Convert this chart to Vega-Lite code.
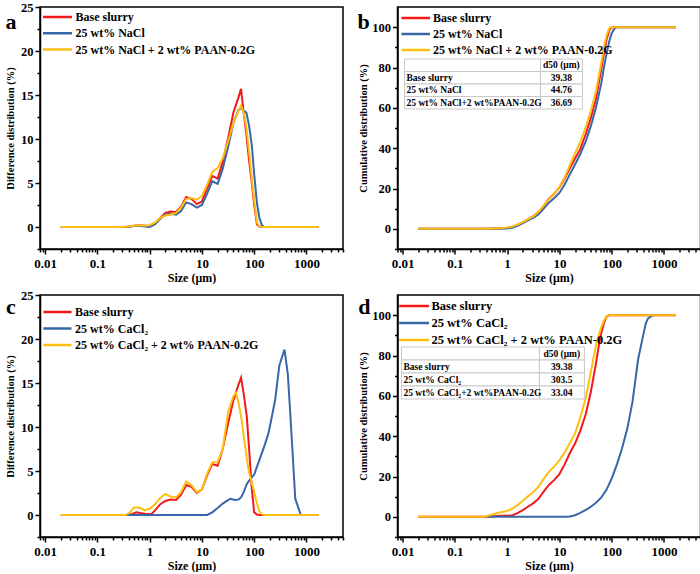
{
"$schema": "https://vega.github.io/schema/vega-lite/v6.json",
"background": "white",
"padding": {"left": 4, "top": 0, "right": 0, "bottom": 0},
"spacing": 4,
"config": {
  "font": "Liberation Serif",
  "view": {"stroke": "black", "strokeWidth": 1.5},
  "axis": {"grid": false, "domainColor": "black", "domainWidth": 1.5, "tickColor": "black", "tickWidth": 1.5,
           "labelFont": "Liberation Serif", "labelFontWeight": "bold", "labelFontSize": 13, "labelColor": "black",
           "titleFont": "Liberation Serif", "titleFontWeight": "bold", "titleColor": "black", "labelFlush": false, "labelOverlap": false},
  "axisX": {"labelPadding": 3, "titlePadding": 2, "titleFontSize": 12, "labelFontSize": 13},
  "axisY": {"labelPadding": 2, "titlePadding": 2.5, "titleFontSize": 10.5, "labelFontSize": 12.5}
},
"datasets": {
  "a": [
    {"series":"Base slurry","size":0.02,"value":0},{"series":"Base slurry","size":0.32,"value":0},{"series":"Base slurry","size":0.4,"value":0.05},{"series":"Base slurry","size":0.5,"value":0.15},{"series":"Base slurry","size":0.63,"value":0.2},{"series":"Base slurry","size":0.8,"value":0.15},{"series":"Base slurry","size":1,"value":0.1},{"series":"Base slurry","size":1.26,"value":0.4},{"series":"Base slurry","size":1.58,"value":1.0},{"series":"Base slurry","size":2,"value":1.6},{"series":"Base slurry","size":2.5,"value":1.75},{"series":"Base slurry","size":3.2,"value":1.7},{"series":"Base slurry","size":4,"value":2.3},{"series":"Base slurry","size":5,"value":3.4},{"series":"Base slurry","size":6.3,"value":3.2},{"series":"Base slurry","size":8,"value":2.6},{"series":"Base slurry","size":10,"value":2.9},{"series":"Base slurry","size":12.6,"value":4.4},{"series":"Base slurry","size":15.8,"value":5.8},{"series":"Base slurry","size":20,"value":5.5},{"series":"Base slurry","size":25,"value":7.4},{"series":"Base slurry","size":32,"value":10.2},{"series":"Base slurry","size":40,"value":13.0},{"series":"Base slurry","size":50,"value":14.7},{"series":"Base slurry","size":56,"value":15.7},{"series":"Base slurry","size":63,"value":13.0},{"series":"Base slurry","size":71,"value":10.5},{"series":"Base slurry","size":80,"value":7.5},{"series":"Base slurry","size":90,"value":5.0},{"series":"Base slurry","size":100,"value":2.5},{"series":"Base slurry","size":113,"value":0.3},{"series":"Base slurry","size":126,"value":0.05},{"series":"Base slurry","size":141,"value":0},{"series":"Base slurry","size":1700,"value":0},
    {"series":"25 wt% NaCl","size":0.02,"value":0},{"series":"25 wt% NaCl","size":0.4,"value":0},{"series":"25 wt% NaCl","size":0.5,"value":0.1},{"series":"25 wt% NaCl","size":0.63,"value":0.15},{"series":"25 wt% NaCl","size":0.8,"value":0.05},{"series":"25 wt% NaCl","size":1,"value":0},{"series":"25 wt% NaCl","size":1.26,"value":0.3},{"series":"25 wt% NaCl","size":1.58,"value":0.9},{"series":"25 wt% NaCl","size":2,"value":1.4},{"series":"25 wt% NaCl","size":2.5,"value":1.5},{"series":"25 wt% NaCl","size":3.2,"value":1.4},{"series":"25 wt% NaCl","size":4,"value":1.8},{"series":"25 wt% NaCl","size":5,"value":2.8},{"series":"25 wt% NaCl","size":6.3,"value":2.6},{"series":"25 wt% NaCl","size":8,"value":2.2},{"series":"25 wt% NaCl","size":10,"value":2.5},{"series":"25 wt% NaCl","size":12.6,"value":3.8},{"series":"25 wt% NaCl","size":15.8,"value":5.2},{"series":"25 wt% NaCl","size":20,"value":4.9},{"series":"25 wt% NaCl","size":25,"value":6.6},{"series":"25 wt% NaCl","size":32,"value":9.2},{"series":"25 wt% NaCl","size":40,"value":11.8},{"series":"25 wt% NaCl","size":50,"value":13.3},{"series":"25 wt% NaCl","size":56,"value":13.5},{"series":"25 wt% NaCl","size":63,"value":13.2},{"series":"25 wt% NaCl","size":71,"value":13.0},{"series":"25 wt% NaCl","size":80,"value":11.5},{"series":"25 wt% NaCl","size":90,"value":9.3},{"series":"25 wt% NaCl","size":100,"value":6.0},{"series":"25 wt% NaCl","size":113,"value":2.7},{"series":"25 wt% NaCl","size":126,"value":1.0},{"series":"25 wt% NaCl","size":141,"value":0.2},{"series":"25 wt% NaCl","size":158,"value":0},{"series":"25 wt% NaCl","size":1700,"value":0},
    {"series":"25 wt% NaCl + 2 wt% PAAN-0.2G","size":0.02,"value":0},{"series":"25 wt% NaCl + 2 wt% PAAN-0.2G","size":0.32,"value":0},{"series":"25 wt% NaCl + 2 wt% PAAN-0.2G","size":0.4,"value":0.05},{"series":"25 wt% NaCl + 2 wt% PAAN-0.2G","size":0.5,"value":0.15},{"series":"25 wt% NaCl + 2 wt% PAAN-0.2G","size":0.63,"value":0.2},{"series":"25 wt% NaCl + 2 wt% PAAN-0.2G","size":0.8,"value":0.15},{"series":"25 wt% NaCl + 2 wt% PAAN-0.2G","size":1,"value":0.2},{"series":"25 wt% NaCl + 2 wt% PAAN-0.2G","size":1.26,"value":0.5},{"series":"25 wt% NaCl + 2 wt% PAAN-0.2G","size":1.58,"value":1.0},{"series":"25 wt% NaCl + 2 wt% PAAN-0.2G","size":2,"value":1.3},{"series":"25 wt% NaCl + 2 wt% PAAN-0.2G","size":2.5,"value":1.4},{"series":"25 wt% NaCl + 2 wt% PAAN-0.2G","size":3.2,"value":1.6},{"series":"25 wt% NaCl + 2 wt% PAAN-0.2G","size":4,"value":2.2},{"series":"25 wt% NaCl + 2 wt% PAAN-0.2G","size":5,"value":3.2},{"series":"25 wt% NaCl + 2 wt% PAAN-0.2G","size":6.3,"value":3.3},{"series":"25 wt% NaCl + 2 wt% PAAN-0.2G","size":8,"value":3.1},{"series":"25 wt% NaCl + 2 wt% PAAN-0.2G","size":10,"value":3.5},{"series":"25 wt% NaCl + 2 wt% PAAN-0.2G","size":12.6,"value":4.8},{"series":"25 wt% NaCl + 2 wt% PAAN-0.2G","size":15.8,"value":6.3},{"series":"25 wt% NaCl + 2 wt% PAAN-0.2G","size":20,"value":6.7},{"series":"25 wt% NaCl + 2 wt% PAAN-0.2G","size":25,"value":7.8},{"series":"25 wt% NaCl + 2 wt% PAAN-0.2G","size":32,"value":9.8},{"series":"25 wt% NaCl + 2 wt% PAAN-0.2G","size":40,"value":11.8},{"series":"25 wt% NaCl + 2 wt% PAAN-0.2G","size":50,"value":13.2},{"series":"25 wt% NaCl + 2 wt% PAAN-0.2G","size":56,"value":13.8},{"series":"25 wt% NaCl + 2 wt% PAAN-0.2G","size":63,"value":13.0},{"series":"25 wt% NaCl + 2 wt% PAAN-0.2G","size":71,"value":11.3},{"series":"25 wt% NaCl + 2 wt% PAAN-0.2G","size":80,"value":8.5},{"series":"25 wt% NaCl + 2 wt% PAAN-0.2G","size":90,"value":5.5},{"series":"25 wt% NaCl + 2 wt% PAAN-0.2G","size":100,"value":3.0},{"series":"25 wt% NaCl + 2 wt% PAAN-0.2G","size":113,"value":0.5},{"series":"25 wt% NaCl + 2 wt% PAAN-0.2G","size":126,"value":0.1},{"series":"25 wt% NaCl + 2 wt% PAAN-0.2G","size":141,"value":0},{"series":"25 wt% NaCl + 2 wt% PAAN-0.2G","size":1700,"value":0}
  ],
  "b": [
    {"series":"Base slurry","size":0.02,"value":0},{"series":"Base slurry","size":0.5,"value":0},{"series":"Base slurry","size":0.63,"value":0.3},{"series":"Base slurry","size":0.8,"value":0.4},{"series":"Base slurry","size":1,"value":0.5},{"series":"Base slurry","size":1.26,"value":1.0},{"series":"Base slurry","size":1.58,"value":2.0},{"series":"Base slurry","size":2,"value":3.2},{"series":"Base slurry","size":2.5,"value":4.7},{"series":"Base slurry","size":3.2,"value":6.3},{"series":"Base slurry","size":4,"value":8.3},{"series":"Base slurry","size":5,"value":11.3},{"series":"Base slurry","size":6.3,"value":14.8},{"series":"Base slurry","size":8,"value":17.5},{"series":"Base slurry","size":10,"value":20.5},{"series":"Base slurry","size":12.6,"value":25},{"series":"Base slurry","size":15.8,"value":30},{"series":"Base slurry","size":20,"value":35},{"series":"Base slurry","size":25,"value":39.5},{"series":"Base slurry","size":32,"value":47},{"series":"Base slurry","size":40,"value":55},{"series":"Base slurry","size":50,"value":64.5},{"series":"Base slurry","size":63,"value":79},{"series":"Base slurry","size":71,"value":87},{"series":"Base slurry","size":80,"value":94},{"series":"Base slurry","size":90,"value":98.5},{"series":"Base slurry","size":100,"value":100},{"series":"Base slurry","size":1700,"value":100},
    {"series":"25 wt% NaCl","size":0.02,"value":0},{"series":"25 wt% NaCl","size":0.63,"value":0},{"series":"25 wt% NaCl","size":0.8,"value":0.1},{"series":"25 wt% NaCl","size":1,"value":0.2},{"series":"25 wt% NaCl","size":1.26,"value":0.5},{"series":"25 wt% NaCl","size":1.58,"value":1.5},{"series":"25 wt% NaCl","size":2,"value":2.8},{"series":"25 wt% NaCl","size":2.5,"value":4.2},{"series":"25 wt% NaCl","size":3.2,"value":5.6},{"series":"25 wt% NaCl","size":4,"value":7.2},{"series":"25 wt% NaCl","size":5,"value":10},{"series":"25 wt% NaCl","size":6.3,"value":13},{"series":"25 wt% NaCl","size":8,"value":15.3},{"series":"25 wt% NaCl","size":10,"value":17.8},{"series":"25 wt% NaCl","size":12.6,"value":22},{"series":"25 wt% NaCl","size":15.8,"value":27},{"series":"25 wt% NaCl","size":20,"value":32},{"series":"25 wt% NaCl","size":25,"value":37},{"series":"25 wt% NaCl","size":32,"value":43.5},{"series":"25 wt% NaCl","size":40,"value":51},{"series":"25 wt% NaCl","size":50,"value":60},{"series":"25 wt% NaCl","size":63,"value":72},{"series":"25 wt% NaCl","size":71,"value":80},{"series":"25 wt% NaCl","size":80,"value":87},{"series":"25 wt% NaCl","size":90,"value":93},{"series":"25 wt% NaCl","size":100,"value":97},{"series":"25 wt% NaCl","size":113,"value":99.3},{"series":"25 wt% NaCl","size":126,"value":100},{"series":"25 wt% NaCl","size":1700,"value":100},
    {"series":"25 wt% NaCl + 2 wt% PAAN-0.2G","size":0.02,"value":0},{"series":"25 wt% NaCl + 2 wt% PAAN-0.2G","size":0.5,"value":0.1},{"series":"25 wt% NaCl + 2 wt% PAAN-0.2G","size":0.63,"value":0.3},{"series":"25 wt% NaCl + 2 wt% PAAN-0.2G","size":0.8,"value":0.4},{"series":"25 wt% NaCl + 2 wt% PAAN-0.2G","size":1,"value":0.6},{"series":"25 wt% NaCl + 2 wt% PAAN-0.2G","size":1.26,"value":1.1},{"series":"25 wt% NaCl + 2 wt% PAAN-0.2G","size":1.58,"value":2.1},{"series":"25 wt% NaCl + 2 wt% PAAN-0.2G","size":2,"value":3.3},{"series":"25 wt% NaCl + 2 wt% PAAN-0.2G","size":2.5,"value":4.7},{"series":"25 wt% NaCl + 2 wt% PAAN-0.2G","size":3.2,"value":6.3},{"series":"25 wt% NaCl + 2 wt% PAAN-0.2G","size":4,"value":8.5},{"series":"25 wt% NaCl + 2 wt% PAAN-0.2G","size":5,"value":11.5},{"series":"25 wt% NaCl + 2 wt% PAAN-0.2G","size":6.3,"value":14.6},{"series":"25 wt% NaCl + 2 wt% PAAN-0.2G","size":8,"value":17.5},{"series":"25 wt% NaCl + 2 wt% PAAN-0.2G","size":10,"value":20.8},{"series":"25 wt% NaCl + 2 wt% PAAN-0.2G","size":12.6,"value":25.5},{"series":"25 wt% NaCl + 2 wt% PAAN-0.2G","size":15.8,"value":31.5},{"series":"25 wt% NaCl + 2 wt% PAAN-0.2G","size":20,"value":37.5},{"series":"25 wt% NaCl + 2 wt% PAAN-0.2G","size":25,"value":43},{"series":"25 wt% NaCl + 2 wt% PAAN-0.2G","size":32,"value":50.5},{"series":"25 wt% NaCl + 2 wt% PAAN-0.2G","size":40,"value":58.5},{"series":"25 wt% NaCl + 2 wt% PAAN-0.2G","size":50,"value":68},{"series":"25 wt% NaCl + 2 wt% PAAN-0.2G","size":63,"value":82},{"series":"25 wt% NaCl + 2 wt% PAAN-0.2G","size":71,"value":90},{"series":"25 wt% NaCl + 2 wt% PAAN-0.2G","size":80,"value":96},{"series":"25 wt% NaCl + 2 wt% PAAN-0.2G","size":90,"value":99.5},{"series":"25 wt% NaCl + 2 wt% PAAN-0.2G","size":100,"value":100},{"series":"25 wt% NaCl + 2 wt% PAAN-0.2G","size":1700,"value":100}
  ],
  "c": [
    {"series":"Base slurry","size":0.02,"value":0},{"series":"Base slurry","size":0.35,"value":0},{"series":"Base slurry","size":0.45,"value":0.1},{"series":"Base slurry","size":0.56,"value":0.3},{"series":"Base slurry","size":0.7,"value":0.2},{"series":"Base slurry","size":0.9,"value":0.1},{"series":"Base slurry","size":1.1,"value":0.15},{"series":"Base slurry","size":1.26,"value":0.5},{"series":"Base slurry","size":1.58,"value":1.2},{"series":"Base slurry","size":2,"value":1.6},{"series":"Base slurry","size":2.5,"value":1.75},{"series":"Base slurry","size":3.2,"value":1.7},{"series":"Base slurry","size":4,"value":2.3},{"series":"Base slurry","size":5,"value":3.4},{"series":"Base slurry","size":6.3,"value":3.2},{"series":"Base slurry","size":8,"value":2.5},{"series":"Base slurry","size":10,"value":2.9},{"series":"Base slurry","size":12.6,"value":4.5},{"series":"Base slurry","size":15.8,"value":5.8},{"series":"Base slurry","size":20,"value":5.6},{"series":"Base slurry","size":25,"value":7.5},{"series":"Base slurry","size":32,"value":10.5},{"series":"Base slurry","size":40,"value":13.0},{"series":"Base slurry","size":50,"value":14.8},{"series":"Base slurry","size":56,"value":15.6},{"series":"Base slurry","size":63,"value":13.8},{"series":"Base slurry","size":72,"value":11.3},{"series":"Base slurry","size":80,"value":7.5},{"series":"Base slurry","size":90,"value":3.0},{"series":"Base slurry","size":100,"value":0.3},{"series":"Base slurry","size":113,"value":0.05},{"series":"Base slurry","size":126,"value":0},{"series":"Base slurry","size":1700,"value":0},
    {"series":"25 wt% CaCl₂","size":0.35,"value":0},{"series":"25 wt% CaCl₂","size":12.6,"value":0},{"series":"25 wt% CaCl₂","size":15.8,"value":0.3},{"series":"25 wt% CaCl₂","size":20,"value":0.8},{"series":"25 wt% CaCl₂","size":25,"value":1.3},{"series":"25 wt% CaCl₂","size":30,"value":1.6},{"series":"25 wt% CaCl₂","size":35,"value":1.85},{"series":"25 wt% CaCl₂","size":43,"value":1.7},{"series":"25 wt% CaCl₂","size":50,"value":1.75},{"series":"25 wt% CaCl₂","size":56,"value":2.0},{"series":"25 wt% CaCl₂","size":63,"value":2.6},{"series":"25 wt% CaCl₂","size":72,"value":3.5},{"series":"25 wt% CaCl₂","size":80,"value":3.9},{"series":"25 wt% CaCl₂","size":100,"value":4.6},{"series":"25 wt% CaCl₂","size":130,"value":6.5},{"series":"25 wt% CaCl₂","size":160,"value":8.0},{"series":"25 wt% CaCl₂","size":188,"value":9.3},{"series":"25 wt% CaCl₂","size":220,"value":11.3},{"series":"25 wt% CaCl₂","size":252,"value":13.1},{"series":"25 wt% CaCl₂","size":303,"value":17.0},{"series":"25 wt% CaCl₂","size":380,"value":18.8},{"series":"25 wt% CaCl₂","size":440,"value":16.0},{"series":"25 wt% CaCl₂","size":488,"value":11.7},{"series":"25 wt% CaCl₂","size":550,"value":6.5},{"series":"25 wt% CaCl₂","size":611,"value":1.85},{"series":"25 wt% CaCl₂","size":780,"value":0},
    {"series":"25 wt% CaCl₂ + 2 wt% PAAN-0.2G","size":0.02,"value":0},{"series":"25 wt% CaCl₂ + 2 wt% PAAN-0.2G","size":0.35,"value":0},{"series":"25 wt% CaCl₂ + 2 wt% PAAN-0.2G","size":0.42,"value":0.3},{"series":"25 wt% CaCl₂ + 2 wt% PAAN-0.2G","size":0.5,"value":0.85},{"series":"25 wt% CaCl₂ + 2 wt% PAAN-0.2G","size":0.63,"value":0.85},{"series":"25 wt% CaCl₂ + 2 wt% PAAN-0.2G","size":0.8,"value":0.55},{"series":"25 wt% CaCl₂ + 2 wt% PAAN-0.2G","size":1,"value":0.7},{"series":"25 wt% CaCl₂ + 2 wt% PAAN-0.2G","size":1.26,"value":1.2},{"series":"25 wt% CaCl₂ + 2 wt% PAAN-0.2G","size":1.58,"value":1.9},{"series":"25 wt% CaCl₂ + 2 wt% PAAN-0.2G","size":2,"value":2.4},{"series":"25 wt% CaCl₂ + 2 wt% PAAN-0.2G","size":2.5,"value":2.1},{"series":"25 wt% CaCl₂ + 2 wt% PAAN-0.2G","size":3.2,"value":2.0},{"series":"25 wt% CaCl₂ + 2 wt% PAAN-0.2G","size":4,"value":2.6},{"series":"25 wt% CaCl₂ + 2 wt% PAAN-0.2G","size":5,"value":3.8},{"series":"25 wt% CaCl₂ + 2 wt% PAAN-0.2G","size":6.3,"value":3.4},{"series":"25 wt% CaCl₂ + 2 wt% PAAN-0.2G","size":8,"value":2.6},{"series":"25 wt% CaCl₂ + 2 wt% PAAN-0.2G","size":10,"value":2.9},{"series":"25 wt% CaCl₂ + 2 wt% PAAN-0.2G","size":12.6,"value":4.7},{"series":"25 wt% CaCl₂ + 2 wt% PAAN-0.2G","size":15.8,"value":6.0},{"series":"25 wt% CaCl₂ + 2 wt% PAAN-0.2G","size":20,"value":6.0},{"series":"25 wt% CaCl₂ + 2 wt% PAAN-0.2G","size":25,"value":7.5},{"series":"25 wt% CaCl₂ + 2 wt% PAAN-0.2G","size":32,"value":11.8},{"series":"25 wt% CaCl₂ + 2 wt% PAAN-0.2G","size":40,"value":13.5},{"series":"25 wt% CaCl₂ + 2 wt% PAAN-0.2G","size":45,"value":13.9},{"series":"25 wt% CaCl₂ + 2 wt% PAAN-0.2G","size":50,"value":12.8},{"series":"25 wt% CaCl₂ + 2 wt% PAAN-0.2G","size":56,"value":11.3},{"series":"25 wt% CaCl₂ + 2 wt% PAAN-0.2G","size":63,"value":9.0},{"series":"25 wt% CaCl₂ + 2 wt% PAAN-0.2G","size":72,"value":6.5},{"series":"25 wt% CaCl₂ + 2 wt% PAAN-0.2G","size":80,"value":4.8},{"series":"25 wt% CaCl₂ + 2 wt% PAAN-0.2G","size":90,"value":3.7},{"series":"25 wt% CaCl₂ + 2 wt% PAAN-0.2G","size":100,"value":2.6},{"series":"25 wt% CaCl₂ + 2 wt% PAAN-0.2G","size":113,"value":1.3},{"series":"25 wt% CaCl₂ + 2 wt% PAAN-0.2G","size":126,"value":0.4},{"series":"25 wt% CaCl₂ + 2 wt% PAAN-0.2G","size":141,"value":0.1},{"series":"25 wt% CaCl₂ + 2 wt% PAAN-0.2G","size":158,"value":0},{"series":"25 wt% CaCl₂ + 2 wt% PAAN-0.2G","size":1700,"value":0}
  ],
  "d": [
    {"series":"Base slurry","size":0.02,"value":0},{"series":"Base slurry","size":0.4,"value":0},{"series":"Base slurry","size":0.5,"value":0.2},{"series":"Base slurry","size":0.63,"value":0.4},{"series":"Base slurry","size":0.8,"value":0.5},{"series":"Base slurry","size":1,"value":0.6},{"series":"Base slurry","size":1.26,"value":0.8},{"series":"Base slurry","size":1.58,"value":1.8},{"series":"Base slurry","size":2,"value":3.3},{"series":"Base slurry","size":2.5,"value":5.0},{"series":"Base slurry","size":3.2,"value":6.8},{"series":"Base slurry","size":4,"value":9.0},{"series":"Base slurry","size":5,"value":12.5},{"series":"Base slurry","size":6.3,"value":15.8},{"series":"Base slurry","size":8,"value":18.3},{"series":"Base slurry","size":10,"value":21.2},{"series":"Base slurry","size":12.6,"value":26},{"series":"Base slurry","size":15.8,"value":31.5},{"series":"Base slurry","size":20,"value":36.5},{"series":"Base slurry","size":25,"value":42.5},{"series":"Base slurry","size":32,"value":51},{"series":"Base slurry","size":40,"value":62},{"series":"Base slurry","size":50,"value":76},{"series":"Base slurry","size":56,"value":84},{"series":"Base slurry","size":63,"value":91},{"series":"Base slurry","size":71,"value":96},{"series":"Base slurry","size":80,"value":99.3},{"series":"Base slurry","size":90,"value":100},{"series":"Base slurry","size":1700,"value":100},
    {"series":"25 wt% CaCl₂","size":0.4,"value":0},{"series":"25 wt% CaCl₂","size":13,"value":0},{"series":"25 wt% CaCl₂","size":15.8,"value":0.2},{"series":"25 wt% CaCl₂","size":20,"value":0.8},{"series":"25 wt% CaCl₂","size":25,"value":2.0},{"series":"25 wt% CaCl₂","size":32,"value":3.5},{"series":"25 wt% CaCl₂","size":40,"value":5},{"series":"25 wt% CaCl₂","size":50,"value":7},{"series":"25 wt% CaCl₂","size":63,"value":9.5},{"series":"25 wt% CaCl₂","size":80,"value":13.5},{"series":"25 wt% CaCl₂","size":100,"value":19},{"series":"25 wt% CaCl₂","size":126,"value":26},{"series":"25 wt% CaCl₂","size":158,"value":34},{"series":"25 wt% CaCl₂","size":200,"value":44},{"series":"25 wt% CaCl₂","size":250,"value":57},{"series":"25 wt% CaCl₂","size":320,"value":78},{"series":"25 wt% CaCl₂","size":400,"value":90},{"series":"25 wt% CaCl₂","size":450,"value":96},{"series":"25 wt% CaCl₂","size":500,"value":98.5},{"series":"25 wt% CaCl₂","size":560,"value":99.3},{"series":"25 wt% CaCl₂","size":630,"value":100},
    {"series":"25 wt% CaCl₂ + 2 wt% PAAN-0.2G","size":0.02,"value":0},{"series":"25 wt% CaCl₂ + 2 wt% PAAN-0.2G","size":0.35,"value":0},{"series":"25 wt% CaCl₂ + 2 wt% PAAN-0.2G","size":0.4,"value":0.3},{"series":"25 wt% CaCl₂ + 2 wt% PAAN-0.2G","size":0.5,"value":1.0},{"series":"25 wt% CaCl₂ + 2 wt% PAAN-0.2G","size":0.63,"value":1.8},{"series":"25 wt% CaCl₂ + 2 wt% PAAN-0.2G","size":0.8,"value":2.4},{"series":"25 wt% CaCl₂ + 2 wt% PAAN-0.2G","size":1,"value":2.9},{"series":"25 wt% CaCl₂ + 2 wt% PAAN-0.2G","size":1.26,"value":4.0},{"series":"25 wt% CaCl₂ + 2 wt% PAAN-0.2G","size":1.58,"value":5.8},{"series":"25 wt% CaCl₂ + 2 wt% PAAN-0.2G","size":2,"value":8.0},{"series":"25 wt% CaCl₂ + 2 wt% PAAN-0.2G","size":2.5,"value":10.2},{"series":"25 wt% CaCl₂ + 2 wt% PAAN-0.2G","size":3.2,"value":12.3},{"series":"25 wt% CaCl₂ + 2 wt% PAAN-0.2G","size":4,"value":15},{"series":"25 wt% CaCl₂ + 2 wt% PAAN-0.2G","size":5,"value":18.8},{"series":"25 wt% CaCl₂ + 2 wt% PAAN-0.2G","size":6.3,"value":22.3},{"series":"25 wt% CaCl₂ + 2 wt% PAAN-0.2G","size":8,"value":25},{"series":"25 wt% CaCl₂ + 2 wt% PAAN-0.2G","size":10,"value":28},{"series":"25 wt% CaCl₂ + 2 wt% PAAN-0.2G","size":12.6,"value":32},{"series":"25 wt% CaCl₂ + 2 wt% PAAN-0.2G","size":15.8,"value":36.5},{"series":"25 wt% CaCl₂ + 2 wt% PAAN-0.2G","size":20,"value":41.5},{"series":"25 wt% CaCl₂ + 2 wt% PAAN-0.2G","size":25,"value":49},{"series":"25 wt% CaCl₂ + 2 wt% PAAN-0.2G","size":32,"value":59},{"series":"25 wt% CaCl₂ + 2 wt% PAAN-0.2G","size":40,"value":72},{"series":"25 wt% CaCl₂ + 2 wt% PAAN-0.2G","size":45,"value":79},{"series":"25 wt% CaCl₂ + 2 wt% PAAN-0.2G","size":50,"value":85},{"series":"25 wt% CaCl₂ + 2 wt% PAAN-0.2G","size":56,"value":89.5},{"series":"25 wt% CaCl₂ + 2 wt% PAAN-0.2G","size":63,"value":94},{"series":"25 wt% CaCl₂ + 2 wt% PAAN-0.2G","size":71,"value":97.3},{"series":"25 wt% CaCl₂ + 2 wt% PAAN-0.2G","size":80,"value":99.5},{"series":"25 wt% CaCl₂ + 2 wt% PAAN-0.2G","size":90,"value":100},{"series":"25 wt% CaCl₂ + 2 wt% PAAN-0.2G","size":1700,"value":100}
  ],
  "legNa": [{"series":"Base slurry"},{"series":"25 wt% NaCl"},{"series":"25 wt% NaCl + 2 wt% PAAN-0.2G"}],
  "legCa": [{"series":"Base slurry"},{"series":"25 wt% CaCl₂"},{"series":"25 wt% CaCl₂ + 2 wt% PAAN-0.2G"}],
  "tabB": [{"sample":" ","d50":"d50 (μm)"},{"sample":"Base slurry","d50":"39.38"},{"sample":"25 wt% NaCl","d50":"44.76"},{"sample":"25 wt% NaCl+2 wt%PAAN-0.2G","d50":"36.69"}],
  "tabD": [{"sample":" ","d50":"d50 (μm)"},{"sample":"Base slurry","d50":"39.38"},{"sample":"25 wt% CaCl₂","d50":"303.5"},{"sample":"25 wt% CaCl₂+2 wt%PAAN-0.2G","d50":"33.04"}]
},
"resolve": {"scale": {"color": "independent"}, "legend": {"color": "independent"}},
"vconcat": [
 {
  "hconcat": [
   {
    "width": 303, "height": 242,
    "resolve": {"scale": {"y": "independent"}, "axis": {"x": "independent", "y": "independent"}},
    "layer": [
     {"data": {"name": "a"}, "mark": {"type": "line", "strokeWidth": 2},
      "encoding": {
       "x": {"field": "size", "type": "quantitative", "scale": {"type": "log", "domain": [0.008, 5000], "nice": false},
             "axis": {"orient": "bottom", "values": [0.008,0.009,0.01,0.02,0.03,0.04,0.05,0.06,0.07,0.08,0.09,0.1,0.2,0.3,0.4,0.5,0.6,0.7,0.8,0.9,1,2,3,4,5,6,7,8,9,10,20,30,40,50,60,70,80,90,100,200,300,400,500,600,700,800,900,1000,2000,3000,4000,5000],
                      "format": "~g", "labelExpr": "indexof([0.01,0.1,1,10,100,1000], datum.value) >= 0 ? datum.label : ''",
                      "tickSize": {"condition": {"test": "indexof([0.01,0.1,1,10,100,1000], datum.value) >= 0", "value": 5}, "value": 3},
                      "title": "Size (μm)"}},
       "y": {"field": "value", "type": "quantitative", "scale": {"domain": [-2.5, 25], "nice": false, "zero": false},
             "axis": {"orient": "left", "values": [-2.5,0,2.5,5,7.5,10,12.5,15,17.5,20,22.5,25], "labelExpr": "datum.value % 5 == 0 ? datum.label : ''",
                      "tickSize": {"condition": {"test": "datum.value % 5 == 0", "value": 5}, "value": 3},
                      "title": "Difference distribution (%)", "minExtent": 22, "maxExtent": 22}},
       "color": {"field": "series", "type": "nominal", "scale": {"domain": ["Base slurry","25 wt% NaCl","25 wt% NaCl + 2 wt% PAAN-0.2G"], "range": ["#f2191b","#3767a7","#fdbf12"]}, "legend": null}
      }},
     {"data": {"name": "legNa"},
      "layer": [
       {"mark": {"type": "rule", "strokeWidth": 2.5},
        "encoding": {
         "x": {"datum": 0.00913, "axis": null}, "x2": {"datum": 0.0327},
         "y": {"field": "series", "type": "nominal", "scale": {"type": "point", "domain": ["Base slurry","25 wt% NaCl","25 wt% NaCl + 2 wt% PAAN-0.2G"], "range": [10, 42.5], "padding": 0}, "axis": null},
         "color": {"field": "series", "type": "nominal", "legend": null}}},
       {"mark": {"type": "text", "align": "left", "baseline": "middle", "font": "Liberation Serif", "fontWeight": "bold", "fontSize": 12, "color": "black"},
        "encoding": {
         "x": {"datum": 0.0382, "axis": null},
         "y": {"field": "series", "type": "nominal", "scale": {"type": "point", "domain": ["Base slurry","25 wt% NaCl","25 wt% NaCl + 2 wt% PAAN-0.2G"], "range": [10, 42.5], "padding": 0}, "axis": null},
         "text": {"field": "series"}}}
      ]},
     {"data": {"values": [{}]}, "mark": {"type": "text", "text": "a", "font": "Liberation Serif", "fontWeight": "bold", "fontSize": 22, "align": "center", "baseline": "middle", "color": "black"},
      "encoding": {"x": {"datum": 0.00223, "axis": null}, "y": {"datum": 23.3, "scale": {"domain": [-2.5, 25], "nice": false, "zero": false}, "axis": null}}}
    ]
   },
   {
    "width": 303, "height": 242,
    "resolve": {"scale": {"y": "independent"}, "axis": {"x": "independent", "y": "independent"}},
    "layer": [
     {"data": {"name": "b"}, "mark": {"type": "line", "strokeWidth": 2},
      "encoding": {
       "x": {"field": "size", "type": "quantitative", "scale": {"type": "log", "domain": [0.008, 5000], "nice": false},
             "axis": {"orient": "bottom", "values": [0.008,0.009,0.01,0.02,0.03,0.04,0.05,0.06,0.07,0.08,0.09,0.1,0.2,0.3,0.4,0.5,0.6,0.7,0.8,0.9,1,2,3,4,5,6,7,8,9,10,20,30,40,50,60,70,80,90,100,200,300,400,500,600,700,800,900,1000,2000,3000,4000,5000],
                      "format": "~g", "labelExpr": "indexof([0.01,0.1,1,10,100,1000], datum.value) >= 0 ? datum.label : ''",
                      "tickSize": {"condition": {"test": "indexof([0.01,0.1,1,10,100,1000], datum.value) >= 0", "value": 5}, "value": 3},
                      "title": "Size (μm)"}},
       "y": {"field": "value", "type": "quantitative", "scale": {"domain": [-10, 110], "nice": false, "zero": false},
             "axis": {"orient": "left", "values": [-10,0,10,20,30,40,50,60,70,80,90,100], "labelExpr": "datum.value % 20 == 0 ? datum.label : ''",
                      "tickSize": {"condition": {"test": "datum.value % 20 == 0", "value": 5}, "value": 3},
                      "title": "Cumulative distribution (%)", "minExtent": 27, "maxExtent": 27}},
       "color": {"field": "series", "type": "nominal", "scale": {"domain": ["Base slurry","25 wt% NaCl","25 wt% NaCl + 2 wt% PAAN-0.2G"], "range": ["#f2191b","#3767a7","#fdbf12"]}, "legend": null}
      }},
     {"data": {"name": "tabB"},
      "layer": [
       {"mark": {"type": "rect", "fill": "white", "stroke": "#c8c8c8", "strokeWidth": 1},
        "encoding": {"x": {"datum": 0.01089, "axis": null}, "x2": {"datum": 4.34},
         "y": {"field": "sample", "type": "nominal", "scale": {"type": "band", "domain": [" ","Base slurry","25 wt% NaCl","25 wt% NaCl+2 wt%PAAN-0.2G"], "range": [52, 102], "paddingInner": 0, "paddingOuter": 0}, "axis": null}}},
       {"mark": {"type": "rect", "fill": "white", "stroke": "#c8c8c8", "strokeWidth": 1},
        "encoding": {"x": {"datum": 4.34, "axis": null}, "x2": {"datum": 27.6},
         "y": {"field": "sample", "type": "nominal", "scale": {"type": "band", "domain": [" ","Base slurry","25 wt% NaCl","25 wt% NaCl+2 wt%PAAN-0.2G"], "range": [52, 102], "paddingInner": 0, "paddingOuter": 0}, "axis": null}}},
       {"mark": {"type": "text", "align": "left", "baseline": "middle", "font": "Liberation Serif", "fontWeight": "bold", "fontSize": 9.5, "color": "black"},
        "encoding": {"x": {"datum": 0.0119, "axis": null},
         "y": {"field": "sample", "type": "nominal", "scale": {"type": "band", "domain": [" ","Base slurry","25 wt% NaCl","25 wt% NaCl+2 wt%PAAN-0.2G"], "range": [52, 102], "paddingInner": 0, "paddingOuter": 0}, "axis": null},
         "text": {"field": "sample"}}},
       {"mark": {"type": "text", "align": "center", "baseline": "middle", "font": "Liberation Serif", "fontWeight": "bold", "fontSize": 9.5, "color": "black"},
        "encoding": {"x": {"datum": 10.9, "axis": null},
         "y": {"field": "sample", "type": "nominal", "scale": {"type": "band", "domain": [" ","Base slurry","25 wt% NaCl","25 wt% NaCl+2 wt%PAAN-0.2G"], "range": [52, 102], "paddingInner": 0, "paddingOuter": 0}, "axis": null},
         "text": {"field": "d50"}}}
      ]},
     {"data": {"name": "legNa"},
      "layer": [
       {"mark": {"type": "rule", "strokeWidth": 2.5},
        "encoding": {
         "x": {"datum": 0.0095, "axis": null}, "x2": {"datum": 0.0335},
         "y": {"field": "series", "type": "nominal", "scale": {"type": "point", "domain": ["Base slurry","25 wt% NaCl","25 wt% NaCl + 2 wt% PAAN-0.2G"], "range": [11, 43], "padding": 0}, "axis": null},
         "color": {"field": "series", "type": "nominal", "legend": null}}},
       {"mark": {"type": "text", "align": "left", "baseline": "middle", "font": "Liberation Serif", "fontWeight": "bold", "fontSize": 12, "color": "black"},
        "encoding": {
         "x": {"datum": 0.0382, "axis": null},
         "y": {"field": "series", "type": "nominal", "scale": {"type": "point", "domain": ["Base slurry","25 wt% NaCl","25 wt% NaCl + 2 wt% PAAN-0.2G"], "range": [11, 43], "padding": 0}, "axis": null},
         "text": {"field": "series"}}}
      ]},
     {"data": {"values": [{}]}, "mark": {"type": "text", "text": "b", "font": "Liberation Serif", "fontWeight": "bold", "fontSize": 22, "align": "center", "baseline": "middle", "color": "black"},
      "encoding": {"x": {"datum": 0.00179, "axis": null}, "y": {"datum": 102.6, "scale": {"domain": [-10, 110], "nice": false, "zero": false}, "axis": null}}}
    ]
   }
  ],
  "spacing": 11.5,
  "resolve": {"scale": {"color": "independent"}, "legend": {"color": "independent"}}
 },
 {
  "hconcat": [
   {
    "width": 303, "height": 242,
    "resolve": {"scale": {"y": "independent"}, "axis": {"x": "independent", "y": "independent"}},
    "layer": [
     {"data": {"name": "c"}, "mark": {"type": "line", "strokeWidth": 2},
      "encoding": {
       "x": {"field": "size", "type": "quantitative", "scale": {"type": "log", "domain": [0.008, 5000], "nice": false},
             "axis": {"orient": "bottom", "values": [0.008,0.009,0.01,0.02,0.03,0.04,0.05,0.06,0.07,0.08,0.09,0.1,0.2,0.3,0.4,0.5,0.6,0.7,0.8,0.9,1,2,3,4,5,6,7,8,9,10,20,30,40,50,60,70,80,90,100,200,300,400,500,600,700,800,900,1000,2000,3000,4000,5000],
                      "format": "~g", "labelExpr": "indexof([0.01,0.1,1,10,100,1000], datum.value) >= 0 ? datum.label : ''",
                      "tickSize": {"condition": {"test": "indexof([0.01,0.1,1,10,100,1000], datum.value) >= 0", "value": 5}, "value": 3},
                      "title": "Size (μm)"}},
       "y": {"field": "value", "type": "quantitative", "scale": {"domain": [-2.5, 25], "nice": false, "zero": false},
             "axis": {"orient": "left", "values": [-2.5,0,2.5,5,7.5,10,12.5,15,17.5,20,22.5,25], "labelExpr": "datum.value % 5 == 0 ? datum.label : ''",
                      "tickSize": {"condition": {"test": "datum.value % 5 == 0", "value": 5}, "value": 3},
                      "title": "Difference distribution (%)", "minExtent": 22, "maxExtent": 22}},
       "color": {"field": "series", "type": "nominal", "scale": {"domain": ["Base slurry","25 wt% CaCl₂","25 wt% CaCl₂ + 2 wt% PAAN-0.2G"], "range": ["#f2191b","#3767a7","#fdbf12"]}, "legend": null}
      }},
     {"data": {"name": "legCa"},
      "layer": [
       {"mark": {"type": "rule", "strokeWidth": 2.5},
        "encoding": {
         "x": {"datum": 0.0093, "axis": null}, "x2": {"datum": 0.032},
         "y": {"field": "series", "type": "nominal", "scale": {"type": "point", "domain": ["Base slurry","25 wt% CaCl₂","25 wt% CaCl₂ + 2 wt% PAAN-0.2G"], "range": [17, 50], "padding": 0}, "axis": null},
         "color": {"field": "series", "type": "nominal", "legend": null}}},
       {"mark": {"type": "text", "align": "left", "baseline": "middle", "font": "Liberation Serif", "fontWeight": "bold", "fontSize": 12, "color": "black"},
        "encoding": {
         "x": {"datum": 0.0375, "axis": null},
         "y": {"field": "series", "type": "nominal", "scale": {"type": "point", "domain": ["Base slurry","25 wt% CaCl₂","25 wt% CaCl₂ + 2 wt% PAAN-0.2G"], "range": [17, 50], "padding": 0}, "axis": null},
         "text": {"field": "series"}}}
      ]},
     {"data": {"values": [{}]}, "mark": {"type": "text", "text": "c", "font": "Liberation Serif", "fontWeight": "bold", "fontSize": 22, "align": "center", "baseline": "middle", "color": "black"},
      "encoding": {"x": {"datum": 0.00223, "axis": null}, "y": {"datum": 23.6, "scale": {"domain": [-2.5, 25], "nice": false, "zero": false}, "axis": null}}}
    ]
   },
   {
    "width": 303, "height": 242,
    "resolve": {"scale": {"y": "independent"}, "axis": {"x": "independent", "y": "independent"}},
    "layer": [
     {"data": {"name": "d"}, "mark": {"type": "line", "strokeWidth": 2},
      "encoding": {
       "x": {"field": "size", "type": "quantitative", "scale": {"type": "log", "domain": [0.008, 5000], "nice": false},
             "axis": {"orient": "bottom", "values": [0.008,0.009,0.01,0.02,0.03,0.04,0.05,0.06,0.07,0.08,0.09,0.1,0.2,0.3,0.4,0.5,0.6,0.7,0.8,0.9,1,2,3,4,5,6,7,8,9,10,20,30,40,50,60,70,80,90,100,200,300,400,500,600,700,800,900,1000,2000,3000,4000,5000],
                      "format": "~g", "labelExpr": "indexof([0.01,0.1,1,10,100,1000], datum.value) >= 0 ? datum.label : ''",
                      "tickSize": {"condition": {"test": "indexof([0.01,0.1,1,10,100,1000], datum.value) >= 0", "value": 5}, "value": 3},
                      "title": "Size (μm)"}},
       "y": {"field": "value", "type": "quantitative", "scale": {"domain": [-10, 110], "nice": false, "zero": false},
             "axis": {"orient": "left", "values": [-10,0,10,20,30,40,50,60,70,80,90,100], "labelExpr": "datum.value % 20 == 0 ? datum.label : ''",
                      "tickSize": {"condition": {"test": "datum.value % 20 == 0", "value": 5}, "value": 3},
                      "title": "Cumulative distribution (%)", "minExtent": 27, "maxExtent": 27}},
       "color": {"field": "series", "type": "nominal", "scale": {"domain": ["Base slurry","25 wt% CaCl₂","25 wt% CaCl₂ + 2 wt% PAAN-0.2G"], "range": ["#f2191b","#3767a7","#fdbf12"]}, "legend": null}
      }},
     {"data": {"name": "tabD"},
      "layer": [
       {"mark": {"type": "rect", "fill": "white", "stroke": "#c8c8c8", "strokeWidth": 1},
        "encoding": {"x": {"datum": 0.00954, "axis": null}, "x2": {"datum": 4.15},
         "y": {"field": "sample", "type": "nominal", "scale": {"type": "band", "domain": [" ","Base slurry","25 wt% CaCl₂","25 wt% CaCl₂+2 wt%PAAN-0.2G"], "range": [52, 104], "paddingInner": 0, "paddingOuter": 0}, "axis": null}}},
       {"mark": {"type": "rect", "fill": "white", "stroke": "#c8c8c8", "strokeWidth": 1},
        "encoding": {"x": {"datum": 4.15, "axis": null}, "x2": {"datum": 30.1},
         "y": {"field": "sample", "type": "nominal", "scale": {"type": "band", "domain": [" ","Base slurry","25 wt% CaCl₂","25 wt% CaCl₂+2 wt%PAAN-0.2G"], "range": [52, 104], "paddingInner": 0, "paddingOuter": 0}, "axis": null}}},
       {"mark": {"type": "text", "align": "left", "baseline": "middle", "font": "Liberation Serif", "fontWeight": "bold", "fontSize": 9.5, "color": "black"},
        "encoding": {"x": {"datum": 0.0104, "axis": null},
         "y": {"field": "sample", "type": "nominal", "scale": {"type": "band", "domain": [" ","Base slurry","25 wt% CaCl₂","25 wt% CaCl₂+2 wt%PAAN-0.2G"], "range": [52, 104], "paddingInner": 0, "paddingOuter": 0}, "axis": null},
         "text": {"field": "sample"}}},
       {"mark": {"type": "text", "align": "center", "baseline": "middle", "font": "Liberation Serif", "fontWeight": "bold", "fontSize": 9.5, "color": "black"},
        "encoding": {"x": {"datum": 11.1, "axis": null},
         "y": {"field": "sample", "type": "nominal", "scale": {"type": "band", "domain": [" ","Base slurry","25 wt% CaCl₂","25 wt% CaCl₂+2 wt%PAAN-0.2G"], "range": [52, 104], "paddingInner": 0, "paddingOuter": 0}, "axis": null},
         "text": {"field": "d50"}}}
      ]},
     {"data": {"name": "legCa"},
      "layer": [
       {"mark": {"type": "rule", "strokeWidth": 2.5},
        "encoding": {
         "x": {"datum": 0.0086, "axis": null}, "x2": {"datum": 0.032},
         "y": {"field": "series", "type": "nominal", "scale": {"type": "point", "domain": ["Base slurry","25 wt% CaCl₂","25 wt% CaCl₂ + 2 wt% PAAN-0.2G"], "range": [11, 45], "padding": 0}, "axis": null},
         "color": {"field": "series", "type": "nominal", "legend": null}}},
       {"mark": {"type": "text", "align": "left", "baseline": "middle", "font": "Liberation Serif", "fontWeight": "bold", "fontSize": 12.5, "color": "black"},
        "encoding": {
         "x": {"datum": 0.0357, "axis": null},
         "y": {"field": "series", "type": "nominal", "scale": {"type": "point", "domain": ["Base slurry","25 wt% CaCl₂","25 wt% CaCl₂ + 2 wt% PAAN-0.2G"], "range": [11, 45], "padding": 0}, "axis": null},
         "text": {"field": "series"}}}
      ]},
     {"data": {"values": [{}]}, "mark": {"type": "text", "text": "d", "font": "Liberation Serif", "fontWeight": "bold", "fontSize": 22, "align": "center", "baseline": "middle", "color": "black"},
      "encoding": {"x": {"datum": 0.00187, "axis": null}, "y": {"datum": 104.1, "scale": {"domain": [-10, 110], "nice": false, "zero": false}, "axis": null}}}
    ]
   }
  ],
  "spacing": 11.5,
  "resolve": {"scale": {"color": "independent"}, "legend": {"color": "independent"}}
 }
]
}
